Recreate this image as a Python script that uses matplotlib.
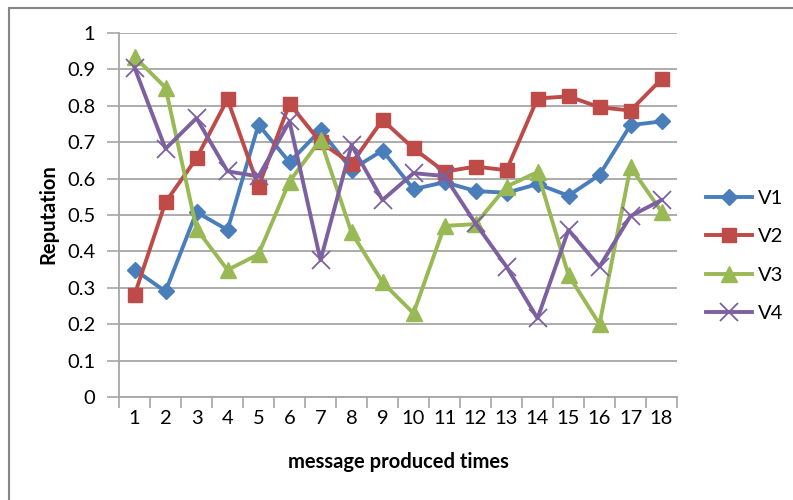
import matplotlib
matplotlib.use("Agg")
import matplotlib.pyplot as plt
from matplotlib.patches import Rectangle

x = list(range(1, 19))
V1 = [0.35, 0.29, 0.508, 0.459, 0.748, 0.645, 0.733, 0.625, 0.677, 0.571, 0.59, 0.566, 0.561, 0.585, 0.553, 0.61, 0.747, 0.757]
V2 = [0.28, 0.535, 0.656, 0.818, 0.578, 0.806, 0.70, 0.641, 0.761, 0.683, 0.619, 0.633, 0.623, 0.82, 0.826, 0.796, 0.787, 0.873]
V3 = [0.935, 0.85, 0.462, 0.349, 0.392, 0.592, 0.707, 0.452, 0.315, 0.23, 0.47, 0.475, 0.578, 0.618, 0.335, 0.20, 0.632, 0.509]
V4 = [0.905, 0.682, 0.766, 0.62, 0.606, 0.757, 0.376, 0.692, 0.541, 0.615, 0.607, 0.477, 0.358, 0.216, 0.459, 0.358, 0.497, 0.541]
series_names = ["V1", "V2", "V3", "V4"]
yticks = [0, 0.1, 0.2, 0.3, 0.4, 0.5, 0.6, 0.7, 0.8, 0.9, 1]
ytick_labels = ["0", "0.1", "0.2", "0.3", "0.4", "0.5", "0.6", "0.7", "0.8", "0.9", "1"]

plt.rcParams['font.family'] = ['Lato', 'DejaVu Sans']

fig = plt.figure(figsize=(7.93, 5.0), dpi=100)
ax = fig.add_axes([119/793, 1-397/500, (677-119)/793, (397-33)/500])

styles = [
    dict(color="#4A7EBB", marker="D", ms=8.5, mew=1),
    dict(color="#BE4B48", marker="s", ms=10.5, mew=1),
    dict(color="#98B954", marker="^", ms=11, mew=1),
    dict(color="#7D60A0", marker="x", ms=13, mew=1.3),
]
for vals, name, st in zip([V1, V2, V3, V4], series_names, styles):
    ax.plot(x, vals, color=st["color"], lw=2.8, marker=st["marker"], ms=st["ms"],
            mfc=st["color"], mec=st["color"], mew=st["mew"], label=name)

ax.set_xlim(0.5, 18.5)
ax.set_ylim(0, 1)
ax.set_yticks(yticks)
ax.set_yticklabels(ytick_labels)
ax.set_xticks(x)
ax.set_xticks([i + 0.5 for i in range(0, 19)], minor=True)
ax.tick_params(axis='x', which='major', length=0, pad=9, labelsize=14.5)
ax.tick_params(axis='x', which='minor', length=8, width=1.2, color="#A6A6A6")
ax.tick_params(axis='y', length=9, width=1.2, color="#A6A6A6", pad=8, labelsize=14.5)
ax.grid(axis='y', color="#A6A6A6", lw=1.3)
ax.set_axisbelow(True)
for s in ['top', 'right']:
    ax.spines[s].set_visible(False)
for s in ['left', 'bottom']:
    ax.spines[s].set_color("#A6A6A6")
    ax.spines[s].set_linewidth(1.3)

fig.text(398/793, 1-462/500, "message produced times", ha='center', va='center',
         fontsize=14.5, fontweight='bold')
fig.text(48/793, 1-214/500, "Reputation", ha='center', va='center', rotation=90,
         fontsize=14.5, fontweight='bold')

leg = ax.legend(loc='center left', bbox_to_anchor=(706/793, 1-256/500),
                bbox_transform=fig.transFigure, frameon=False, fontsize=14.5,
                handlelength=2.3, handletextpad=0.3, labelspacing=1.05,
                borderpad=0, borderaxespad=0)

fig.patches.append(Rectangle((9/793, -0.1), 1.2, 1-8/500+0.1, transform=fig.transFigure,
                             fill=False, edgecolor="#868686", lw=1.5))

fig.savefig("out.png", dpi=100)
